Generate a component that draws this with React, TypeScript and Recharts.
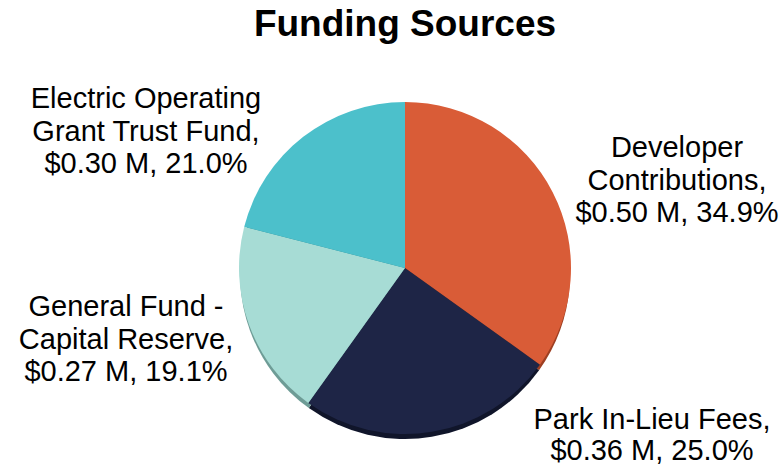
import React from "react";
import { PieChart, Pie, Cell } from "recharts";

const categories = [
  "Developer Contributions",
  "Park In-Lieu Fees",
  "General Fund - Capital Reserve",
  "Electric Operating Grant Trust Fund",
];
const amounts = [0.5, 0.36, 0.27, 0.3];
const percents = [34.9, 25.0, 19.1, 21.0];
const labelLines = [
  ["Developer", "Contributions,", "$0.50 M, 34.9%"],
  ["Park In-Lieu Fees,", "$0.36 M, 25.0%"],
  ["General Fund -", "Capital Reserve,", "$0.27 M, 19.1%"],
  ["Electric Operating", "Grant Trust Fund,", "$0.30 M, 21.0%"],
];

const colors = ["#D95C37", "#1E2546", "#A7DCD5", "#4CC0CB"];
const shadeColors = ["#9E3F22", "#10152A", "#6E9C96", "#2E8891"];
// label anchor (center x, first baseline) per slice
const labelPos = [
  { x: 677, y: 157 },
  { x: 652, y: 429 },
  { x: 126, y: 316 },
  { x: 146, y: 108 },
];

const data = categories.map((name, i) => ({
  name,
  value: percents[i],
  amount: amounts[i],
}));

const FONT = "'Liberation Sans', Arial, Helvetica, sans-serif";

const renderLabel = (props: any) => {
  const i = props.index;
  const p = labelPos[i];
  return (
    <text
      key={`lbl-${i}`}
      x={p.x}
      y={p.y}
      textAnchor="middle"
      fill="#000"
      fontSize={29}
      fontFamily={FONT}
    >
      {labelLines[i].map((t, k) => (
        <tspan key={k} x={p.x} dy={k === 0 ? 0 : i === 1 ? 31 : 32.5}>
          {t}
        </tspan>
      ))}
    </text>
  );
};

export default function App() {
  return (
    <div
      style={{
        position: "absolute",
        left: 0,
        top: 0,
        width: 780,
        height: 466,
        background: "#fff",
      }}
    >
      <div
        style={{
          position: "absolute",
          left: 0,
          top: 3,
          width: 810,
          textAlign: "center",
          fontFamily: FONT,
          fontWeight: "bold",
          fontSize: 37,
          lineHeight: "42px",
          color: "#000",
        }}
      >
        Funding Sources
      </div>
      <PieChart
        width={780}
        height={466}
        margin={{ top: 0, right: 0, bottom: 0, left: 0 }}
        style={{ position: "absolute", left: 0, top: 0 }}
      >
        <Pie
          data={data}
          dataKey="value"
          cx={405}
          cy={274}
          outerRadius={165}
          startAngle={90}
          endAngle={-270}
          stroke="none"
          isAnimationActive={false}
        >
          {data.map((d, i) => (
            <Cell key={`s-${i}`} fill={shadeColors[i]} />
          ))}
        </Pie>
        <Pie
          data={data}
          dataKey="value"
          cx={405}
          cy={268}
          outerRadius={166}
          startAngle={90}
          endAngle={-270}
          stroke="none"
          label={renderLabel}
          labelLine={false}
          isAnimationActive={false}
        >
          {data.map((d, i) => (
            <Cell key={`c-${i}`} fill={colors[i]} />
          ))}
        </Pie>
      </PieChart>
    </div>
  );
}
